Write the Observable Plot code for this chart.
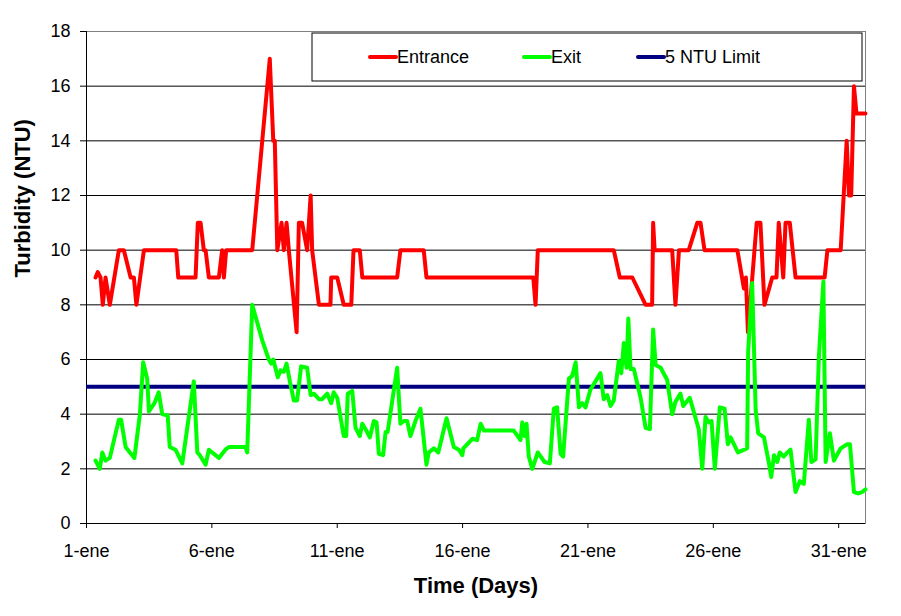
<!DOCTYPE html>
<html><head><meta charset="utf-8">
<script src="https://cdn.jsdelivr.net/npm/d3@7"></script>
<script src="https://cdn.jsdelivr.net/npm/@observablehq/plot@0.6"></script>
<style>body{margin:0;background:#fff;} #chart{width:901px;height:616px;}</style>
</head><body><div id="chart"></div>
<script>
// Days since 1-ene (fractional) and turbidity values (NTU)
const entranceDay = [0.36,0.45,0.56,0.65,0.76,0.93,1.29,1.49,1.76,1.89,1.99,2.29,3.58,3.66,4.35,4.44,4.55,4.68,4.75,4.88,5.28,5.41,5.48,5.57,6.61,7.01,7.31,7.45,7.51,7.61,7.78,7.87,7.98,8.07,8.38,8.47,8.60,8.80,8.94,9.00,9.27,9.73,9.76,10.00,10.26,10.56,10.65,10.90,11.00,12.39,12.52,13.45,13.56,17.82,17.91,18.00,21.03,21.27,21.77,22.30,22.56,22.60,22.66,23.36,23.49,23.63,24.02,24.36,24.49,24.65,25.96,26.22,26.30,26.38,26.73,26.88,27.04,27.35,27.52,27.61,27.79,27.88,28.05,28.28,29.44,29.55,30.08,30.32,30.41,30.50,30.61,30.71,31.07];
const entranceValue = [9.0,9.2,9.0,8,9,8,10,10,9,9,8,10,10,9,9,11,11,10,10,9,9,10,9,10,10,14,17,14,14,10,11,10,11,10,7,11,11,10,12,10,8,8,9,9,8,8,10,10,9,9,10,10,9,9,8,10,10,9,9,8,8,11,10,10,8,10,10,11,11,10,10,8.6,9,7,11,11,8,9,9,11,9,11,11,9,9,10,10,14,12,12,16,15,15];

const exitDay = [0.36,0.53,0.63,0.76,0.93,1.29,1.38,1.56,1.73,1.91,2.13,2.26,2.42,2.49,2.71,2.88,3.02,3.24,3.32,3.55,3.82,4.28,4.42,4.52,4.75,4.88,5.28,5.54,5.68,6.34,6.41,6.61,7.01,7.27,7.37,7.45,7.63,7.74,7.87,7.98,8.11,8.27,8.40,8.56,8.80,8.94,9.07,9.27,9.40,9.60,9.76,9.86,10.00,10.26,10.36,10.42,10.60,10.73,10.90,11.00,11.13,11.30,11.46,11.57,11.66,11.83,11.93,12.01,12.39,12.52,12.66,12.79,12.92,13.12,13.32,13.56,13.65,13.85,14.03,14.36,14.65,14.85,14.99,15.03,15.39,15.58,15.72,15.85,17.04,17.31,17.38,17.47,17.55,17.64,17.78,18.00,18.27,18.48,18.64,18.77,18.91,19.01,19.24,19.37,19.51,19.64,19.77,19.90,20.10,20.50,20.63,20.77,20.90,21.03,21.23,21.33,21.43,21.54,21.61,21.70,21.83,22.10,22.30,22.47,22.60,22.70,22.90,23.16,23.36,23.49,23.69,23.80,24.06,24.42,24.56,24.69,24.82,24.93,25.06,25.26,25.45,25.58,25.69,25.98,26.35,26.39,26.55,26.69,26.79,27.02,27.22,27.31,27.42,27.55,27.65,27.81,27.95,28.08,28.28,28.45,28.61,28.81,28.91,29.08,29.21,29.39,29.48,29.65,29.81,30.08,30.34,30.45,30.61,30.78,30.94,31.07];
const exitValue = [2.3,2.0,2.6,2.3,2.4,3.8,3.8,2.8,2.6,2.4,4.0,5.9,5.3,4.1,4.4,4.8,4.0,3.95,2.8,2.7,2.2,5.2,2.6,2.5,2.15,2.7,2.4,2.7,2.8,2.8,2.6,8.0,6.7,6.0,5.85,6.0,5.35,5.6,5.55,5.85,5.2,4.5,4.5,5.75,5.7,4.7,4.75,4.55,4.55,4.75,4.4,4.8,4.6,3.2,3.2,4.75,4.85,3.5,3.2,3.65,3.45,3.15,3.75,3.7,2.55,2.5,3.35,3.35,5.7,3.65,3.75,3.75,3.2,3.75,4.2,2.15,2.6,2.75,2.6,3.85,2.8,2.7,2.5,2.75,3.1,3.05,3.65,3.4,3.4,3.05,3.7,3.2,3.65,2.45,2.0,2.6,2.25,2.2,4.2,4.25,2.55,2.45,5.3,5.4,5.9,4.25,4.4,4.25,4.9,5.5,4.55,4.7,4.3,4.5,5.95,5.5,6.6,5.7,7.5,5.65,5.65,4.6,3.5,3.45,7.1,5.8,5.7,5.25,4.0,4.45,4.75,4.3,4.6,3.45,2.0,3.9,3.7,3.75,2.0,4.25,4.2,2.9,3.15,2.6,2.75,6.3,8.8,4.15,3.3,3.15,2.2,1.7,2.5,2.25,2.6,2.45,2.6,2.7,1.15,1.55,1.45,3.8,2.25,2.35,6.1,8.85,2.25,3.3,2.3,2.75,2.9,2.9,1.15,1.1,1.15,1.25];

const limitValue = [5];
const xMax = 31.07;
const xTickValues = [0,5,10,15,20,25,30];
const xTickLabels = ["1-ene","6-ene","11-ene","16-ene","21-ene","26-ene","31-ene"];
const yTicks = [0,2,4,6,8,10,12,14,16,18];
const gridValues = [2,4,6,8,10,12,14,16];
const seriesNames = ["Entrance","Exit","5 NTU Limit"];
const seriesColors = ["#ff0000","#00ff00","#000080"];

const entrance = entranceDay.map((d,i)=>({day:d, value:entranceValue[i]}));
const exit = exitDay.map((d,i)=>({day:d, value:exitValue[i]}));

const chart = Plot.plot({
  width: 901, height: 616,
  marginLeft: 86, marginRight: 36, marginTop: 31, marginBottom: 93,
  style: {fontFamily: "'Liberation Sans', Arial, sans-serif", fontSize: "18px", background: "#fff", color: "#000", overflow: "visible"},
  x: {domain: [0, xMax]},
  y: {domain: [0, 18]},
  marks: [
    Plot.ruleY(gridValues, {stroke: "#000", strokeWidth: 1}),
    Plot.frame({stroke: "#808080"}),
    Plot.ruleY([0], {stroke: "#000"}),
    Plot.ruleX([0], {stroke: "#000"}),
    Plot.axisY({ticks: yTicks, tickSize: 6, tickPadding: 10, label: null, fontSize: 18}),
    Plot.axisX({ticks: xTickValues, tickFormat: d => xTickLabels[xTickValues.indexOf(d)], tickSize: 5, tickPadding: 16, label: null, fontSize: 18}),
    Plot.ruleY(limitValue, {stroke: seriesColors[2], strokeWidth: 4}),
    Plot.line(entrance, {x: "day", y: "value", stroke: seriesColors[0], strokeWidth: 4, strokeLinejoin: "round", strokeLinecap: "round"}),
    Plot.line(exit, {x: "day", y: "value", stroke: seriesColors[1], strokeWidth: 4, strokeLinejoin: "round", strokeLinecap: "round"}),
    Plot.text(["Time (Days)"], {frameAnchor: "bottom", dy: 62, lineAnchor: "middle", fontSize: 22, fontWeight: "bold"}),
    Plot.text(["Turbidity (NTU)"], {frameAnchor: "left", dx: -64, rotate: -90, lineAnchor: "middle", fontSize: 22, fontWeight: "bold"})
  ]
});
document.getElementById("chart").appendChild(chart);

// Legend inside the plot area
const svg = d3.select(chart);
const lg = svg.append("g").attr("font-family", "'Liberation Sans', Arial, sans-serif").attr("font-size", 18).attr("text-anchor", "start");
lg.append("rect").attr("x", 312).attr("y", 33).attr("width", 550).attr("height", 48).attr("fill", "#fff").attr("stroke", "#000");
const itemX = [370, 524, 638];
seriesNames.forEach((name, i) => {
  lg.append("line").attr("x1", itemX[i]).attr("x2", itemX[i] + 26).attr("y1", 57).attr("y2", 57)
    .attr("stroke", seriesColors[i]).attr("stroke-width", 4).attr("stroke-linecap", "round");
  lg.append("text").attr("x", itemX[i] + 27).attr("y", 57).attr("dy", "0.35em").attr("text-anchor", "start").attr("fill", "#000").text(name);
});
</script>
</body></html>
